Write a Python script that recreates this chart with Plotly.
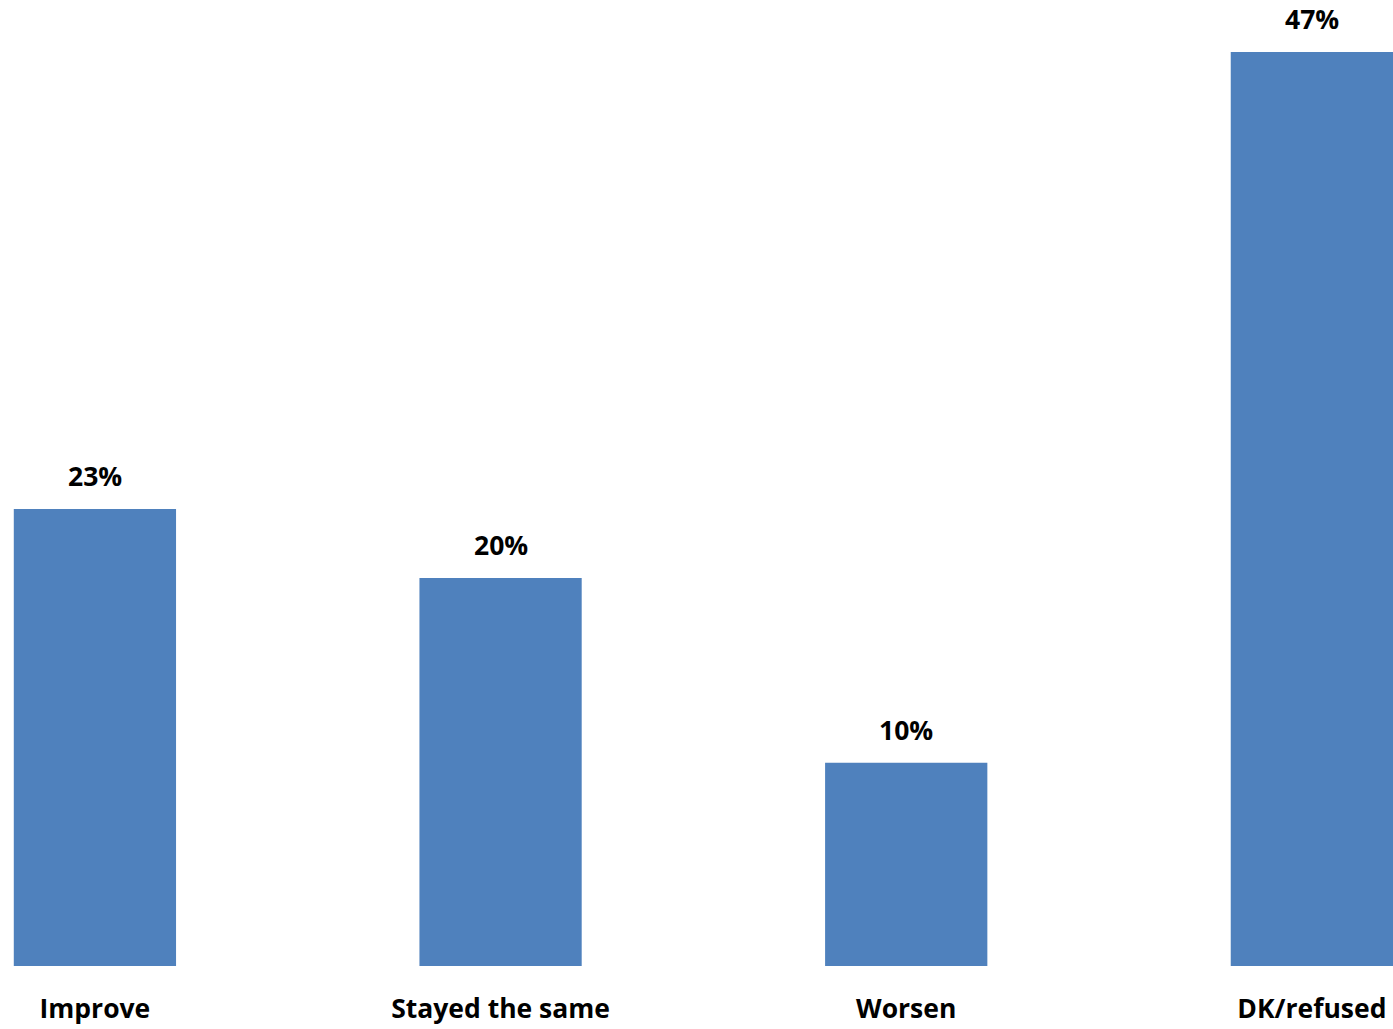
import plotly.graph_objects as go

categories = ["Improve", "Stayed the same", "Worsen", "DK/refused"]
values = [23.5, 19.95, 10.45, 47.0]
labels = ["23%", "20%", "10%", "47%"]

FONT = dict(family="Open Sans", size=26.5, color="#000000", weight="bold")

fig = go.Figure(go.Bar(
    x=categories,
    y=values,
    marker=dict(color="#4F81BD", line=dict(width=0)),
    cliponaxis=False,
    width=0.4,
    hoverinfo="skip",
))

for c, v, t in zip(categories, values, labels):
    fig.add_annotation(
        x=c, y=v, text=t, showarrow=False,
        yanchor="bottom", yshift=13, font=FONT,
    )

fig.update_layout(
    width=1393,
    height=1029,
    margin=dict(l=0, r=0, t=0, b=63),
    paper_bgcolor="white",
    plot_bgcolor="white",
    showlegend=False,
    xaxis=dict(
        range=[-0.234, 3.2],
        showgrid=False,
        zeroline=False,
        showline=False,
        ticks="",
        ticklabelstandoff=24,
        tickfont=FONT,
    ),
    yaxis=dict(
        range=[0, 49.67],
        visible=False,
    ),
)

fig.write_html(
    "out.html",
    config={"displayModeBar": False},
    post_script="document.body.style.margin='0';document.body.style.overflow='hidden';",
)
